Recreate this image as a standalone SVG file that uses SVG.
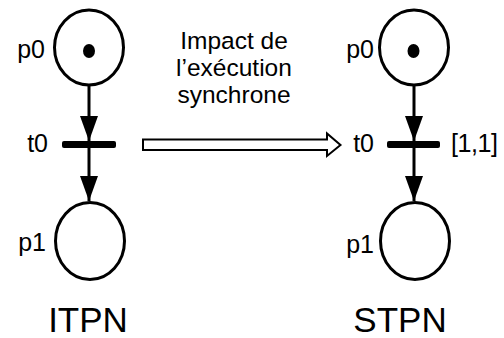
<svg xmlns="http://www.w3.org/2000/svg" width="504" height="338" viewBox="0 0 504 338">
<style>
.pl{fill:#fff;stroke:#000;stroke-width:3}
.tk{fill:#000}
.tr{fill:#000}
.t{font-family:"Liberation Sans",Arial,sans-serif;font-size:25px;fill:#000}
.m{font-family:"Liberation Sans",Arial,sans-serif;font-size:24.5px;fill:#000}
.big{font-family:"Liberation Sans",Arial,sans-serif;font-size:35px;fill:#000}
.arc{stroke:#000;stroke-width:3;fill:none}
</style>
<defs>
<marker id="ahv" markerUnits="userSpaceOnUse" markerWidth="26" markerHeight="18" viewBox="0 0 26 18" refX="25" refY="9" orient="auto">
<path d="M0,0 L25,9 L0,18 Z" fill="#000"/>
</marker>
</defs>
<g id="connectors">
<line class="arc" x1="89" y1="86" x2="89" y2="141" marker-end="url(#ahv)"/>
<line class="arc" x1="89" y1="148" x2="89" y2="201" marker-end="url(#ahv)"/>
<line class="arc" x1="414" y1="86" x2="414" y2="141" marker-end="url(#ahv)"/>
<line class="arc" x1="414" y1="148" x2="414" y2="201" marker-end="url(#ahv)"/>
<polygon points="143,139.5 327,139.5 327,133.5 340.5,145 327,156 327,150 143,150" fill="#fff" stroke="#000" stroke-width="2" stroke-linejoin="miter"/>
</g>
<g id="itpn-p0">
<ellipse class="pl" cx="89" cy="47.5" rx="34.5" ry="37.5"/>
<ellipse class="tk" cx="89" cy="51" rx="6" ry="7"/>
<text class="t" x="45" y="58" text-anchor="end">p0</text>
</g>
<g id="itpn-t0">
<rect class="tr" x="62" y="141" width="54" height="7" rx="2"/>
<text class="t" x="48" y="152" text-anchor="end">t0</text>
</g>
<g id="itpn-p1">
<ellipse class="pl" cx="90" cy="241" rx="34.5" ry="38.5"/>
<text class="t" x="46" y="251" text-anchor="end">p1</text>
</g>
<g id="itpn-label">
<text class="big" x="88" y="332" text-anchor="middle">ITPN</text>
</g>
<g id="transform-label">
<text class="m" text-anchor="middle"><tspan x="234" y="49">Impact de</tspan><tspan x="234" y="76">l’exécution</tspan><tspan x="234" y="103">synchrone</tspan></text>
</g>
<g id="stpn-p0">
<ellipse class="pl" cx="414" cy="47.5" rx="34.5" ry="37.5"/>
<ellipse class="tk" cx="413.5" cy="51" rx="6" ry="7"/>
<text class="t" x="374" y="58" text-anchor="end">p0</text>
</g>
<g id="stpn-t0">
<rect class="tr" x="387" y="141" width="53" height="7" rx="2"/>
<text class="t" x="374" y="152" text-anchor="end">t0</text>
<text class="t" x="451" y="152" textLength="47">[1,1]</text>
</g>
<g id="stpn-p1">
<ellipse class="pl" cx="415" cy="241" rx="34.5" ry="38.5"/>
<text class="t" x="374" y="253" text-anchor="end">p1</text>
</g>
<g id="stpn-label">
<text class="big" x="400" y="332" text-anchor="middle">STPN</text>
</g>
</svg>
